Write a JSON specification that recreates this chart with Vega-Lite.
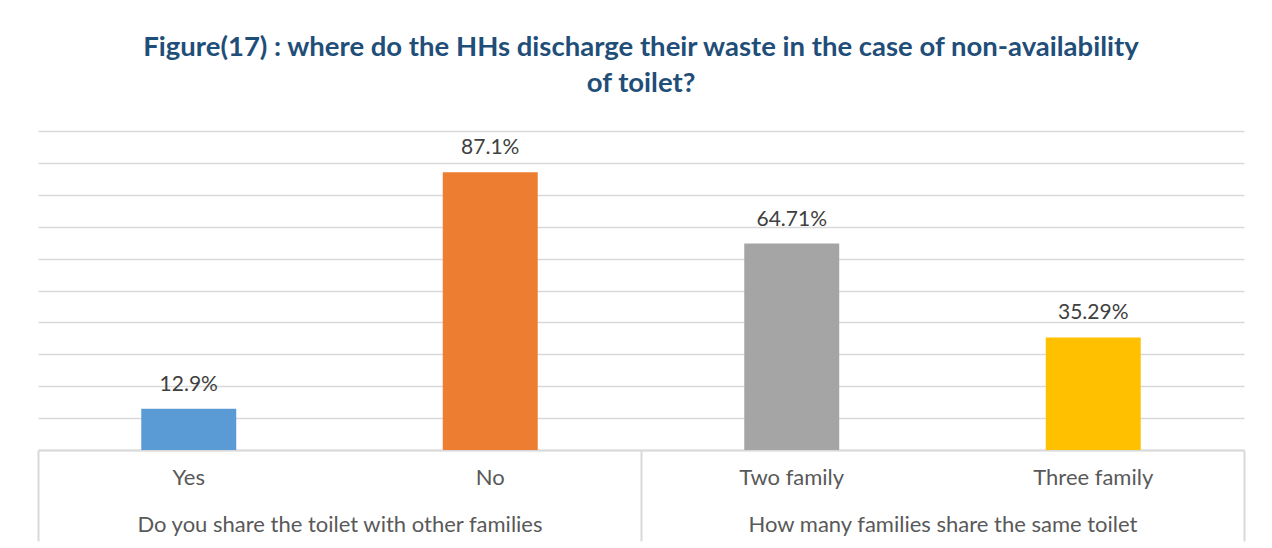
{
  "$schema": "https://vega.github.io/schema/vega-lite/v6.json",
  "width": 1206,
  "height": 319,
  "autosize": {"type": "none"},
  "padding": {"left": 38, "top": 131, "right": 28, "bottom": 98},
  "background": "white",
  "title": {
    "text": ["Figure(17) : where do the HHs discharge their waste in the case of non-availability", "of toilet?"],
    "anchor": "middle",
    "frame": "group",
    "font": "Lato",
    "fontSize": 27.5,
    "fontWeight": "bold",
    "color": "#1F4E79",
    "lineHeight": 36,
    "offset": 34
  },
  "config": {
    "view": {"stroke": null},
    "font": "Lato"
  },
  "data": {
    "values": [
      {"group": "Do you share the toilet with other families", "category": "Yes", "value": 12.9, "label": "12.9%"},
      {"group": "Do you share the toilet with other families", "category": "No", "value": 87.1, "label": "87.1%"},
      {"group": "How many families share the same toilet", "category": "Two family", "value": 64.71, "label": "64.71%"},
      {"group": "How many families share the same toilet", "category": "Three family", "value": 35.29, "label": "35.29%"}
    ]
  },
  "layer": [
    {
      "encoding": {
        "x": {
          "field": "category",
          "type": "nominal",
          "sort": ["Yes", "No", "Two family", "Three family"],
          "scale": {"paddingInner": 0.685, "paddingOuter": 0.3425},
          "axis": {
            "title": null,
            "orient": "bottom",
            "labelAngle": 0,
            "labelFont": "Lato",
            "labelFontSize": 22,
            "labelColor": "#595959",
            "labelPadding": 17,
            "labelLimit": 0,
            "ticks": false,
            "domain": true,
            "domainColor": "#D9D9D9",
            "domainWidth": 2
          }
        },
        "y": {
          "field": "value",
          "type": "quantitative",
          "scale": {"domain": [0, 100]},
          "axis": {
            "title": null,
            "labels": false,
            "ticks": false,
            "domain": false,
            "grid": true,
            "gridColor": "#D9D9D9",
            "gridWidth": 1.5,
            "tickCount": 20,
            "values": [0, 10, 20, 30, 40, 50, 60, 70, 80, 90, 100]
          }
        }
      },
      "layer": [
        {
          "mark": {"type": "bar"},
          "encoding": {
            "color": {
              "field": "category",
              "type": "nominal",
              "scale": {
                "domain": ["Yes", "No", "Two family", "Three family"],
                "range": ["#5B9BD5", "#ED7D31", "#A5A5A5", "#FFC000"]
              },
              "legend": null
            }
          }
        },
        {
          "mark": {"type": "text", "font": "Lato", "fontSize": 21, "color": "#404040", "baseline": "alphabetic", "dy": -18},
          "encoding": {
            "text": {"field": "label"}
          }
        }
      ]
    },
    {
      "mark": {"type": "tick", "opacity": 0},
      "encoding": {
        "x": {
          "field": "group",
          "type": "nominal",
          "scale": {"padding": 0},
          "axis": {
            "title": null,
            "orient": "bottom",
            "labelAngle": 0,
            "labelFont": "Lato",
            "labelFontSize": 22,
            "labelColor": "#595959",
            "labelPadding": -27,
            "labelLimit": 0,
            "ticks": true,
            "tickBand": "extent",
            "tickSize": 91,
            "tickColor": "#D9D9D9",
            "tickWidth": 2,
            "domain": false
          }
        }
      }
    }
  ],
  "resolve": {"scale": {"x": "independent"}, "axis": {"x": "independent"}}
}
